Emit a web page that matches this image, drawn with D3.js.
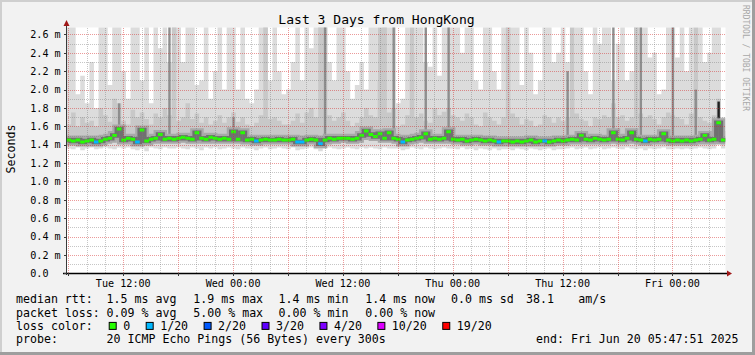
<!DOCTYPE html>
<html>
<head>
<meta charset="utf-8">
<script src="https://cdn.jsdelivr.net/npm/d3@7"></script>
<style>
  html, body { margin: 0; padding: 0; background: #f2f2f2; }
  svg { display: block; font-family: "DejaVu Sans Mono", monospace; }
</style>
</head>
<body>
<svg id="chart" width="755" height="355"></svg>
<script>
// 30 minute steps, Tue Jun 17 05:47:51 -> Fri Jun 20 05:47:51 (values in ms)
const median = [
  1.45,1.44,1.45,1.43,1.44,1.45,1.43,1.44,1.46,1.47,1.50,1.57,
  1.45,1.47,1.46,1.43,1.56,1.44,1.46,1.47,1.51,1.46,1.47,1.46,
  1.47,1.48,1.47,1.46,1.53,1.47,1.46,1.48,1.47,1.46,1.47,1.46,
  1.54,1.46,1.53,1.45,1.46,1.44,1.45,1.46,1.45,1.45,1.46,1.45,
  1.45,1.46,1.43,1.43,1.45,1.46,1.45,1.41,1.45,1.47,1.46,1.47,
  1.47,1.47,1.46,1.47,1.50,1.55,1.51,1.49,1.52,1.47,1.53,1.47,
  1.46,1.43,1.45,1.46,1.47,1.48,1.52,1.46,1.47,1.46,1.47,1.54,
  1.46,1.45,1.46,1.44,1.45,1.46,1.45,1.44,1.45,1.44,1.43,1.44,
  1.44,1.43,1.44,1.43,1.44,1.45,1.43,1.44,1.44,1.43,1.44,1.45,
  1.44,1.45,1.46,1.45,1.50,1.46,1.45,1.47,1.46,1.45,1.46,1.53,
  1.46,1.45,1.47,1.53,1.46,1.45,1.44,1.46,1.45,1.46,1.52,1.45,
  1.44,1.45,1.44,1.45,1.44,1.45,1.46,1.50,1.45,1.46,1.64,1.45
];
const smokeMax = [
  2.7,2.7,1.95,2.15,1.85,2.3,1.8,2.7,2.7,2.05,2.7,2.7,
  2.2,1.9,2.7,2.7,2.1,2.7,1.85,2.7,2.45,2.7,2.3,2.7,
  2.7,2.3,2.7,2.7,2.05,2.1,2.7,1.9,2.2,2.7,2.0,2.7,
  2.7,2.0,2.7,1.9,1.85,2.0,2.7,2.7,2.1,2.7,2.2,1.95,
  2.0,2.3,2.7,2.1,2.7,2.45,2.7,2.7,2.7,2.3,2.1,2.7,
  2.7,2.2,1.9,2.05,2.3,2.0,2.7,2.7,2.1,2.7,2.7,2.7,
  1.85,1.9,2.7,2.4,2.7,2.7,2.3,2.25,2.7,2.15,2.7,2.7,
  2.7,2.7,2.4,2.7,2.7,2.1,2.0,2.7,2.7,2.2,2.0,2.7,
  2.7,2.7,2.7,2.05,2.7,2.4,1.95,2.1,2.7,2.7,2.3,2.4,
  2.7,2.3,2.0,2.7,2.7,2.2,1.95,2.7,2.5,2.7,2.7,2.1,
  2.5,2.7,2.1,2.2,2.7,2.7,2.7,2.35,2.4,1.95,2.0,2.7,
  2.7,2.35,2.7,2.2,2.7,2.1,2.7,2.3,2.4,2.7,2.7,1.7
];
const smokeHi = [
  1.62,1.75,1.6,1.7,1.64,1.66,1.6,1.8,1.72,1.65,1.9,1.85,
  1.66,1.62,1.78,1.7,1.75,1.68,1.62,1.74,1.7,1.8,1.72,2.7,
  1.66,1.7,1.85,1.68,1.74,1.64,1.7,1.62,1.66,1.72,1.64,1.7,
  1.75,1.65,1.7,1.62,1.6,1.64,1.72,2.7,1.68,1.7,1.66,1.62,
  1.62,1.66,1.74,1.64,1.75,1.8,1.7,2.7,2.7,1.72,1.66,1.7,
  1.75,1.66,1.6,1.64,1.7,1.8,1.72,1.7,2.7,2.7,1.75,1.8,
  1.6,1.62,1.72,2.7,1.7,1.74,1.66,1.64,1.8,1.72,1.76,1.8,
  1.72,1.7,1.66,1.74,1.7,1.62,1.6,1.75,1.7,1.66,1.62,1.7,
  2.7,1.74,1.7,1.62,1.68,1.66,1.6,1.62,1.72,1.7,1.64,1.7,
  1.66,1.7,2.7,1.74,1.68,1.66,1.6,1.7,1.68,1.72,1.7,1.85,
  1.7,1.72,1.66,1.7,2.7,1.74,1.7,1.72,1.68,1.62,1.7,1.75,
  1.72,1.7,1.68,1.62,1.74,2.7,1.7,1.66,1.64,1.72,1.9,1.55
];
const smokeMin = [
  1.36,1.35,1.37,1.34,1.36,1.37,1.35,1.36,1.37,1.36,1.35,1.37,
  1.36,1.37,1.35,1.34,1.36,1.33,1.37,1.36,1.35,1.37,1.36,1.36,
  1.37,1.36,1.35,1.37,1.36,1.34,1.37,1.36,1.37,1.35,1.36,1.37,
  1.36,1.35,1.37,1.36,1.36,1.34,1.36,1.37,1.35,1.36,1.37,1.36,
  1.35,1.37,1.34,1.35,1.36,1.37,1.35,1.33,1.36,1.37,1.36,1.35,
  1.36,1.37,1.36,1.35,1.37,1.36,1.37,1.36,1.35,1.37,1.36,1.36,
  1.36,1.34,1.35,1.37,1.36,1.35,1.37,1.36,1.35,1.36,1.37,1.36,
  1.36,1.35,1.37,1.35,1.36,1.34,1.36,1.35,1.34,1.36,1.34,1.35,
  1.35,1.34,1.36,1.35,1.34,1.36,1.35,1.34,1.35,1.36,1.34,1.35,
  1.35,1.36,1.37,1.35,1.36,1.37,1.35,1.36,1.37,1.35,1.36,1.37,
  1.36,1.35,1.37,1.36,1.35,1.36,1.34,1.36,1.35,1.36,1.37,1.35,
  1.35,1.36,1.35,1.36,1.35,1.36,1.37,1.36,1.35,1.36,1.44,1.36
];
// steps with 1/20 packets lost
const lossAt = [6, 15, 41, 50, 51, 55, 73, 94, 104, 126];
// dark smoke columns
const spikeIdx = [11, 22, 36, 56, 71, 78, 83, 109, 119, 125, 132, 137, 142];
const spikeTop = [1.85, 2.7, 1.7, 2.7, 2.7, 2.7, 2.7, 2.2, 2.7, 2.7, 2.7, 2.0, 1.87];

const yTicks = [0.2,0.4,0.6,0.8,1.0,1.2,1.4,1.6,1.8,2.0,2.2,2.4,2.6];
const lossLevels = [0, 1, 2, 3, 4, 10, 19];
const lossLabels = ["0", "1/20", "2/20", "3/20", "4/20", "10/20", "19/20"];
const lossColors = ["#26ff00", "#00b8ff", "#0059ff", "#5e00ff", "#7e00ff", "#dd00ff", "#ff0000"];
const rttStats = ["1.5 ms avg", "1.9 ms max", "1.4 ms min", "1.4 ms now", "0.0 ms sd", "38.1", "am/s"];
const lossStats = ["0.09 % avg", "5.00 % max", "0.00 % min", "0.00 % now"];

const W = 755, H = 355;
const t0 = Date.UTC(2025, 5, 17, 5, 47, 51);
const tEnd = t0 + 72 * 3600e3;
const stepMs = 1800e3;
const pLeft = 66.5, pRight = 725.5, pTop = 27.5, pBottom = 273.3;

const svg = d3.select("#chart");
const x = d3.scaleUtc().domain([new Date(t0), new Date(tEnd)]).range([pLeft, pRight]);
const y = d3.scaleLinear().domain([0, 2.676]).range([pBottom, pTop]);

// frame
svg.append("rect").attr("width", W).attr("height", H).attr("fill", "#f2f2f2");
svg.append("rect").attr("width", W).attr("height", 2).attr("fill", "#cfcfcf");
svg.append("rect").attr("width", 2).attr("height", H).attr("fill", "#cfcfcf");
svg.append("rect").attr("y", H - 3).attr("width", W).attr("height", 3).attr("fill", "#9e9e9e");
svg.append("rect").attr("x", W - 3).attr("width", 3).attr("height", H).attr("fill", "#9e9e9e");

svg.append("rect")
  .attr("x", pLeft).attr("y", pTop)
  .attr("width", pRight - pLeft).attr("height", pBottom - pTop)
  .attr("fill", "#fff");

const defs = svg.append("defs");
defs.append("clipPath").attr("id", "plot")
  .append("rect")
  .attr("x", pLeft).attr("y", pTop)
  .attr("width", pRight - pLeft).attr("height", pBottom - pTop);

// dotted grid patterns: one pixel on, one off
const minorCol = "rgba(120,120,120,0.42)";
const majorCol = "rgba(210,30,30,0.45)";
[["hMinor", 2, 1, minorCol], ["hMajor", 2, 1, majorCol],
 ["vMinor", 1, 2, minorCol], ["vMajor", 1, 2, majorCol]].forEach(([id, w, h, col]) => {
  defs.append("pattern").attr("id", id)
    .attr("patternUnits", "userSpaceOnUse")
    .attr("width", w).attr("height", h)
    .append("rect").attr("width", 1).attr("height", 1).attr("fill", col);
});

const steps = median.map((m, i) => ({
  t: new Date(t0 + i * stepMs),
  t2: new Date(Math.min(t0 + (i + 1) * stepMs, tEnd)),
  median: m, max: smokeMax[i], hi: smokeHi[i], min: smokeMin[i],
  loss: lossAt.includes(i) ? 1 : 0
}));
const stepPts = steps.concat([Object.assign({}, steps[steps.length - 1], { t: new Date(tEnd) })]);

const g = svg.append("g").attr("clip-path", "url(#plot)");

// smoke
g.append("path").datum(stepPts)
  .attr("fill", "#dcdcdc")
  .attr("d", d3.area().curve(d3.curveStepAfter)
    .x(d => x(d.t)).y0(d => y(d.min)).y1(d => y(d.max)));

g.append("path").datum(stepPts)
  .attr("fill", "#c8c8c8")
  .attr("d", d3.area().curve(d3.curveStepAfter)
    .x(d => x(d.t)).y0(d => y(d.median)).y1(d => y(d.hi)));

spikeIdx.forEach((idx, k) => {
  const s = steps[idx];
  const xm = (x(s.t) + x(s.t2)) / 2;
  g.append("rect")
    .attr("x", xm - 1.2).attr("width", 2.4)
    .attr("y", y(spikeTop[k]))
    .attr("height", y(s.median) - y(spikeTop[k]))
    .attr("fill", idx === 142 ? "#1e1e1e" : "#8e8e8e");
});

const medLine = d3.line().curve(d3.curveStepAfter).x(d => x(d.t)).y(d => y(d.median));
g.append("path").datum(stepPts)
  .attr("fill", "none").attr("stroke", "#a8a8a8").attr("stroke-width", 9)
  .attr("d", medLine);
g.append("path").datum(stepPts)
  .attr("fill", "none").attr("stroke", "#707070").attr("stroke-width", 4.5)
  .attr("d", medLine);

// grid
const gridG = svg.append("g").attr("shape-rendering", "crispEdges");
const gx1 = 67, gx2 = 726, gy1 = 28, gy2 = 273;

yTicks.forEach(v => {
  gridG.append("rect")
    .attr("x", gx1).attr("width", gx2 - gx1)
    .attr("y", Math.round(y(v - 0.1))).attr("height", 1)
    .attr("fill", "url(#hMinor)");
  gridG.append("rect")
    .attr("x", gx1).attr("width", gx2 - gx1)
    .attr("y", Math.round(y(v))).attr("height", 1)
    .attr("fill", "url(#hMajor)");
});

x.ticks(d3.utcHour.every(2)).forEach(t => {
  const major = t.getUTCHours() % 6 === 0;
  gridG.append("rect")
    .attr("x", Math.round(x(t))).attr("width", 1)
    .attr("y", gy1).attr("height", gy2 - gy1)
    .attr("fill", major ? "url(#vMajor)" : "url(#vMinor)");
});

// median coloured by loss
steps.forEach(s => {
  let c = 0;
  lossLevels.forEach((l, k) => { if (s.loss >= l) c = k; });
  g.append("line")
    .attr("x1", x(s.t)).attr("x2", x(s.t2))
    .attr("y1", y(s.median)).attr("y2", y(s.median))
    .attr("stroke", lossColors[c]).attr("stroke-width", 3);
});

// axes
svg.append("line")
  .attr("x1", pLeft).attr("x2", pLeft).attr("y1", pBottom + 2).attr("y2", 24)
  .attr("stroke", "#3a3a3a").attr("shape-rendering", "crispEdges");
svg.append("line")
  .attr("x1", 63).attr("x2", pRight + 2).attr("y1", 273.5).attr("y2", 273.5)
  .attr("stroke", "#000").attr("stroke-width", 1.6);
svg.append("path")
  .attr("d", `M${pLeft - 3},26 L${pLeft + 3},26 L${pLeft},20 Z`)
  .attr("fill", "#a01818");
svg.append("path")
  .attr("d", `M727,270.5 L727,276.5 L732,273.5 Z`)
  .attr("fill", "#a01818");

yTicks.concat([0]).forEach(v => {
  svg.append("line")
    .attr("x1", pLeft - 3).attr("x2", pLeft)
    .attr("y1", Math.round(y(v)) + 0.5).attr("y2", Math.round(y(v)) + 0.5)
    .attr("stroke", "#3a3a3a").attr("shape-rendering", "crispEdges");
});
x.ticks(d3.utcHour.every(6)).forEach(t => {
  svg.append("line")
    .attr("x1", Math.round(x(t)) + 0.5).attr("x2", Math.round(x(t)) + 0.5)
    .attr("y1", pBottom).attr("y2", pBottom + 3)
    .attr("stroke", "#3a3a3a").attr("shape-rendering", "crispEdges");
});

// tick labels
const axisFont = 10.15;
[0].concat(yTicks).forEach(v => {
  svg.append("text")
    .attr("x", 30.2).attr("y", y(v) + 3.7)
    .attr("font-size", axisFont)
    .text(v === 0 ? "0.0" : d3.format(".1f")(v) + " m");
});
const fmt = d3.utcFormat("%a %H:%M");
x.ticks(d3.utcHour.every(12)).forEach(t => {
  svg.append("text")
    .attr("x", x(t)).attr("y", 287)
    .attr("text-anchor", "middle")
    .attr("font-size", axisFont)
    .text(fmt(t));
});

// title and side texts
svg.append("text")
  .attr("x", 376.5).attr("y", 24)
  .attr("text-anchor", "middle")
  .attr("font-size", 13.05)
  .text("Last 3 Days from HongKong");

svg.append("text")
  .attr("transform", "translate(15,149) rotate(-90)")
  .attr("text-anchor", "middle")
  .attr("font-size", 11.6)
  .text("Seconds");

svg.append("text")
  .attr("transform", "translate(742.6,5) rotate(90)")
  .attr("font-size", 8)
  .attr("fill", "#a8a8a8")
  .text("RRDTOOL / TOBI OETIKER");

// legend
const legFont = 11.6, charW = 6.98;
const lineY = [303.3, 316.6, 329.9, 343.2];
const colX = [106.6, 193.3, 278.6, 365.3, 451, 526, 578.3];
const leg = svg.append("g").attr("font-size", legFont);

leg.append("text").attr("x", 16).attr("y", lineY[0]).text("median rtt:");
rttStats.forEach((s, i) => leg.append("text").attr("x", colX[i]).attr("y", lineY[0]).text(s));

leg.append("text").attr("x", 16).attr("y", lineY[1]).text("packet loss:");
lossStats.forEach((s, i) => leg.append("text").attr("x", colX[i]).attr("y", lineY[1]).text(s));

leg.append("text").attr("x", 16).attr("y", lineY[2]).text("loss color:");
let bx = 108.7;
lossLabels.forEach((l, i) => {
  leg.append("rect")
    .attr("x", bx + 0.5).attr("y", lineY[2] - 7.5)
    .attr("width", 7).attr("height", 7)
    .attr("fill", lossColors[i]).attr("stroke", "#000");
  leg.append("text").attr("x", bx + 14.5).attr("y", lineY[2]).text(l);
  bx = bx + 14.5 + l.length * charW + 15.5;
});

leg.append("text").attr("x", 16).attr("y", lineY[3]).text("probe:");
leg.append("text").attr("x", colX[0]).attr("y", lineY[3]).text("20 ICMP Echo Pings (56 Bytes) every 300s");
leg.append("text").attr("x", 536).attr("y", lineY[3]).text("end: Fri Jun 20 05:47:51 2025");
</script>
</body>
</html>
